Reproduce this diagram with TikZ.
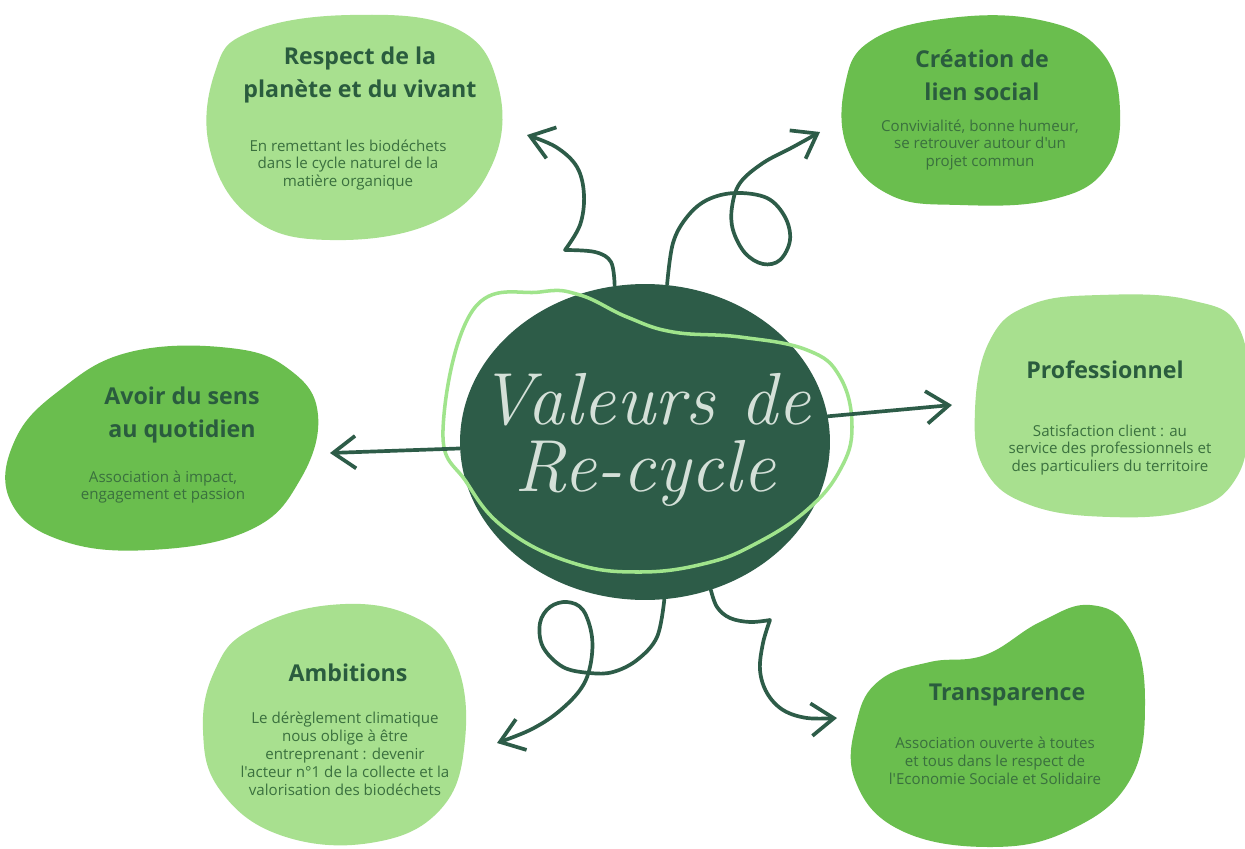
\documentclass[tikz,border=0pt]{standalone}
\usepackage{fontspec}
\newfontfamily\opensans{Open Sans}
\usetikzlibrary{arrows.meta,shapes.geometric}
\definecolor{clair}{RGB}{168,224,143}
\definecolor{moyen}{RGB}{106,190,78}
\definecolor{fonce}{RGB}{45,92,72}
\definecolor{titrevert}{RGB}{42,92,62}
\definecolor{textevert}{RGB}{58,112,62}
\definecolor{boucle}{RGB}{160,228,140}
\definecolor{craie}{RGB}{212,224,216}

\begin{document}
\begin{tikzpicture}[x=0.02cm, y=-0.02cm]
        \tikzstyle{titre}=[text=titrevert, align=center, inner sep=0pt, font=\opensans\bfseries\fontsize{13.2}{18.7}\selectfont]
        \tikzstyle{texte}=[text=textevert, align=center, inner sep=0pt, font=\opensans\fontsize{8.6}{10.2}\selectfont]
        \tikzstyle{fleche}=[draw=fonce, line width=2.1pt, line cap=round, line join=round, -{Straight Barb[length=4.5mm,width=6.5mm,line width=2.1pt]}]
        \fill[white] (0,0) rectangle (1245,849);
        \useasboundingbox (0,0) rectangle (1245,849);
        \fill[clair] plot[smooth cycle, tension=0.7] coordinates {(250,32) (350,15) (455,28) (498,85) (492,165) (435,222) (330,240) (252,218) (210,150) (215,72)};
        \fill[moyen] plot[smooth cycle, tension=0.7] coordinates {(872,40) (950,18) (1040,20) (1100,50) (1120,110) (1105,170) (1050,200) (960,205) (890,195) (848,150) (845,85)};
        \fill[clair] plot[smooth cycle, tension=0.7] coordinates {(990,340) (1030,305) (1100,295) (1190,300) (1240,330) (1248,420) (1235,480) (1190,510) (1110,517) (1030,505) (985,470) (975,410)};
        \fill[moyen] plot[smooth cycle, tension=0.7] coordinates {(60,390) (130,352) (230,348) (290,370) (318,415) (300,480) (250,530) (150,550) (60,540) (10,500) (15,440)};
        \fill[clair] plot[smooth cycle, tension=0.7] coordinates {(250,630) (330,605) (410,615) (455,660) (465,740) (440,810) (370,843) (280,835) (220,790) (203,730) (215,670)};
        \fill[moyen] plot[smooth cycle, tension=0.7] coordinates {(880,680) (930,662) (985,655) (1040,622) (1090,605) (1130,630) (1145,700) (1130,780) (1070,830) (990,847) (900,830) (855,780) (857,720)};
        \node[ellipse, fill=fonce, minimum width=7.4cm, minimum height=6.32cm, inner sep=0pt] (centre) at (645,442) {};
        \draw[boucle, line width=2pt] plot[smooth cycle, tension=0.7] coordinates {(443,430) (473,310) (540,292) (580,295) (627,317) (673,332) (740,337) (807,350) (840,377) (852,427) (840,470) (807,510) (757,543) (707,563) (640,572) (573,563) (507,530) (467,483)};
        \node[text=craie, align=center, font=\itshape\fontsize{42}{38.5}\selectfont] (valeurs) at (645,440) {Valeurs de\\Re-cycle};
        \node[titre] (respect) at (360,75) {Respect de la\\planète et du vivant};
        \node[texte] (respect-t) at (348,165) {En remettant les biodéchets\\dans le cycle naturel de la\\matière organique};
        \node[titre] (creation) at (982,75) {Création de\\lien social};
        \node[texte] (creation-t) at (980,145) {Convivialité, bonne humeur,\\se retrouver autour d'un\\projet commun};
        \node[titre] (pro) at (1105,370) {Professionnel};
        \node[texte] (pro-t) at (1110,450) {Satisfaction client : au\\service des professionnels et\\des particuliers du territoire};
        \node[titre] (sens) at (182,415) {Avoir du sens\\au quotidien};
        \node[texte] (sens-t) at (163,487) {Association à impact,\\engagement et passion};
        \node[titre] (ambitions) at (348,673) {Ambitions};
        \node[texte] (ambitions-t) at (345,754) {Le dérèglement climatique\\nous oblige à être\\entreprenant : devenir\\l'acteur n°1 de la collecte et la\\valorisation des biodéchets};
        \node[titre] (transparence) at (1007,695) {Transparence};
        \node[texte] (transparence-t) at (995,761) {Association ouverte à toutes\\et tous dans le respect de\\l'Economie Sociale et Solidaire};
        \coordinate (vers-respect) at (527,135);
        \coordinate (vers-creation) at (820,132);
        \coordinate (vers-pro) at (952,405);
        \coordinate (vers-sens) at (330,453);
        \coordinate (vers-ambitions) at (497,743);
        \coordinate (vers-transparence) at (837,718);
        \draw[fleche] plot[smooth, tension=0.6] coordinates {(centre.101) (611,262) (595,252) (565,250)} -- plot[smooth, tension=0.6] coordinates {(565,250) (580,225) (584,195) (577,167) (556,147) (vers-respect)};
        \draw[fleche] plot[smooth, tension=0.6] coordinates {(centre.82) (673,243) (687,217) (707,200) (735,193) (767,198) (785,217) (790,240) (780,260) (763,264) (745,253) (733,230) (732,207) (740,183) (763,163) (793,147) (vers-creation)};
        \draw[fleche] (centre.8) -- (vers-pro);
        \draw[fleche] (centre.182) -- (vers-sens);
        \draw[fleche] plot[smooth, tension=0.6] coordinates {(centre.277) (657,637) (637,660) (613,672) (590,673) (563,667) (543,647) (540,623) (550,607) (567,602) (583,610) (592,637) (590,667) (580,690) (557,713) (530,730) (vers-ambitions)};
        \draw[fleche] plot[smooth, tension=0.6] coordinates {(centre.294) (717,607) (730,618) (750,622) (770,620)} -- plot[smooth, tension=0.6] coordinates {(770,620) (763,643) (760,670) (767,693) (783,710) (807,718) (vers-transparence)};
    \end{tikzpicture}
\end{document}
